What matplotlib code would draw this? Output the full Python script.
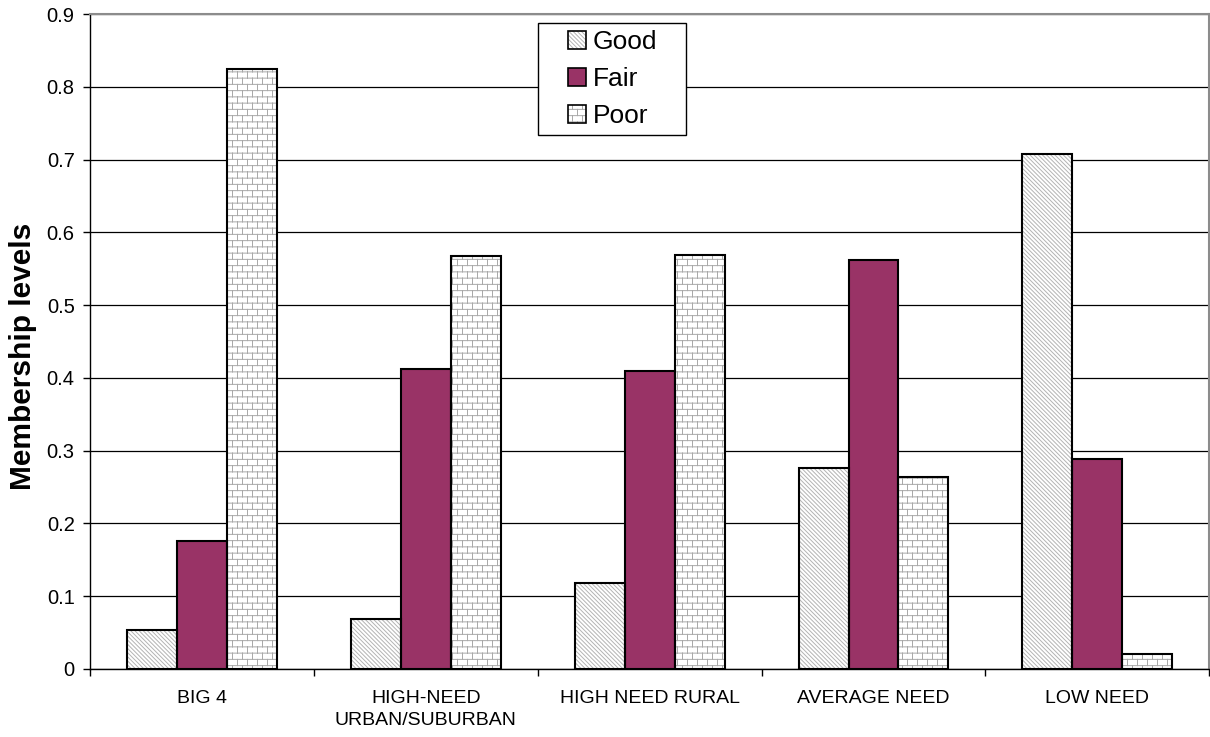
import warnings
import numpy as np
import matplotlib
matplotlib.use("Agg")
import matplotlib.pyplot as plt
from matplotlib import hatch as mhatch
from matplotlib.path import Path
from matplotlib.patches import Patch, Rectangle
from matplotlib.legend_handler import HandlerTuple, HandlerPatch

warnings.filterwarnings("ignore")

# ---- data ----
categories = ["BIG 4", "HIGH-NEED\nURBAN/SUBURBAN", "HIGH NEED RURAL",
              "AVERAGE NEED", "LOW NEED"]
series_names = ["Good", "Fair", "Poor"]
good = [0.053, 0.069, 0.118, 0.276, 0.707]
fair = [0.176, 0.412, 0.409, 0.562, 0.288]
poor = [0.824, 0.568, 0.569, 0.264, 0.020]
y_ticks = [0, 0.1, 0.2, 0.3, 0.4, 0.5, 0.6, 0.7, 0.8, 0.9]
y_tick_labels = ["0", "0.1", "0.2", "0.3", "0.4", "0.5", "0.6", "0.7", "0.8", "0.9"]


# ---- brick hatch pattern ('b') ----
class BrickHatch(mhatch.HatchPatternBase):
    rows = 16
    cols = 10

    def __init__(self, hatch, density):
        if "b" in hatch:
            n, m = self.rows, self.cols
            self.num_vertices = 2 * n + 2 * m * (n - 1) + 4 * m
        else:
            self.num_vertices = 0

    def set_vertices_and_codes(self, vertices, codes):
        n, m = self.rows, self.cols
        verts = []
        for i in range(n):
            y = (i + 0.5) / n
            verts += [(0.0, y), (1.0, y)]
        for i in range(n):
            y0 = (i + 0.5) / n
            y1 = (i + 1.5) / n
            off = 0.5 * (i % 2)
            for k in range(m):
                x = (k + 0.25 + off) / m
                if y1 <= 1.0:
                    verts += [(x, y0), (x, y1)]
                else:
                    verts += [(x, y0), (x, 1.0), (x, 0.0), (x, y1 - 1.0)]
        vertices[:] = np.array(verts)
        codes[0::2] = Path.MOVETO
        codes[1::2] = Path.LINETO


mhatch._hatch_types.append(BrickHatch)
if hasattr(mhatch, "_valid_hatch_patterns"):
    mhatch._valid_hatch_patterns = set(mhatch._valid_hatch_patterns) | {"b"}


def right_square(legend, orig_handle, xdescent, ydescent, width, height, fontsize):
    # square legend key pushed to the right end of the handle box
    return Rectangle(xy=(-xdescent + width - height, -ydescent),
                     width=height, height=height)


plt.rcParams["font.family"] = ["Liberation Sans", "DejaVu Sans"]
plt.rcParams["hatch.linewidth"] = 0.7

fig = plt.figure(figsize=(12.10, 7.37), dpi=100)
ax = fig.add_axes([0.0744, 0.0923, 0.925, 0.8887])

x = np.arange(len(categories))
w = 0.223
good_hatch_gray = "#b3b3b3"
brick_gray = "#a8a8a8"
fair_color = "#993366"

styles = [
    dict(values=good, face="white", hatch="\\" * 8, hcolor=good_hatch_gray),
    dict(values=fair, face=fair_color, hatch=None, hcolor=None),
    dict(values=poor, face="white", hatch="b", hcolor=brick_gray),
]

handles = []
for j, st in enumerate(styles):
    pos = x + (j - 1) * w
    if st["hatch"]:
        ax.bar(pos, st["values"], w, color=st["face"], hatch=st["hatch"],
               edgecolor=st["hcolor"], linewidth=0, zorder=2)
    else:
        ax.bar(pos, st["values"], w, color=st["face"], linewidth=0, zorder=2)
    ax.bar(pos, st["values"], w, fill=False, edgecolor="black",
           linewidth=1.5, zorder=3)
    fill_p = Patch(facecolor=st["face"], hatch=st["hatch"],
                   edgecolor=st["hcolor"] if st["hatch"] else st["face"],
                   linewidth=0)
    edge_p = Patch(fill=False, edgecolor="black", linewidth=1.2)
    handles.append((fill_p, edge_p))

ax.set_xlim(-0.5, len(categories) - 0.5)
ax.set_ylim(0, 0.9)
ax.set_yticks(y_ticks)
ax.set_yticklabels(y_tick_labels, fontsize=14.5)
ax.yaxis.grid(True, color="black", linewidth=0.9, zorder=0)
ax.set_axisbelow(True)

ax.set_xticks(x)
ax.set_xticklabels(categories, fontsize=14, linespacing=1.4)
ax.tick_params(axis="x", which="major", length=0, pad=15)
ax.set_xticks(np.arange(-0.5, len(categories), 1.0), minor=True)
ax.tick_params(axis="x", which="minor", length=5, width=1, direction="out")
ax.tick_params(axis="y", length=5, width=1, direction="out", pad=6)

for side in ("top", "right"):
    ax.spines[side].set_color("#8c8c8c")
    ax.spines[side].set_linewidth(1.5)
for side in ("left", "bottom"):
    ax.spines[side].set_color("black")
    ax.spines[side].set_linewidth(1.0)

ax.set_ylabel("Membership levels", fontsize=21.5, fontweight="bold")
ax.yaxis.set_label_coords(-0.0475, 0.478)

leg = ax.legend(handles, series_names,
                handler_map={tuple: HandlerTuple(ndivide=1),
                             Patch: HandlerPatch(patch_func=right_square)},
                loc="upper left", mode="expand",
                bbox_to_anchor=(0.4, 0.5, 0.1321, 0.4863),
                fontsize=19, frameon=True, fancybox=False, framealpha=1,
                edgecolor="black", handlelength=1.55, handleheight=0.68,
                handletextpad=0.27, borderpad=0.27, labelspacing=0.49,
                borderaxespad=0)
leg.get_frame().set_linewidth(1.0)

fig.savefig("out.png", dpi=100)
